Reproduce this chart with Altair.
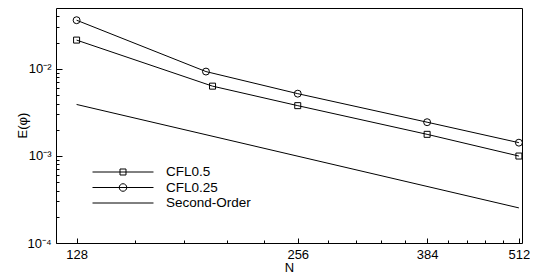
import math
import altair as alt
import pandas as pd

# ---- data ----
series_names = ["CFL0.5", "CFL0.25", "Second-Order"]

n_cfl05 = [128, 196, 256, 384, 512]
e_cfl05 = [0.0214, 0.00633, 0.00378, 0.00177, 0.000997]

n_cfl025 = [128, 192, 256, 384, 512]
e_cfl025 = [0.0362, 0.00931, 0.00519, 0.00244, 0.00142]

n_second = [128, 512]
e_second = [0.0039, 0.000253]

x_major = [128, 256, 384, 512]
x_minor = [153.6, 179.2, 204.8, 230.4, 281.6, 307.2, 332.8, 358.4,
           409.6, 435.2, 460.8, 486.4]
y_major = [1e-4, 1e-3, 1e-2]
y_major_labels = ["10⁻⁴", "10⁻³", "10⁻²"]
y_minor = [2e-4, 3e-4, 4e-4, 5e-4, 6e-4, 7e-4, 8e-4, 9e-4,
           2e-3, 3e-3, 4e-3, 5e-3, 6e-3, 7e-3, 8e-3, 9e-3,
           2e-2, 3e-2, 4e-2]

x_domain = [120, 517]
y_domain = [1e-4, 0.05]

# ---- tables ----
rows = []
for s, ns, es in [("CFL0.5", n_cfl05, e_cfl05),
                  ("CFL0.25", n_cfl025, e_cfl025),
                  ("Second-Order", n_second, e_second)]:
    for n, e in zip(ns, es):
        rows.append({"series": s, "N": n, "E": e})
df = pd.DataFrame(rows)
df_sq = df[df.series == "CFL0.5"]
df_ci = df[df.series == "CFL0.25"]

FONT = "Liberation Sans"
xscale = alt.Scale(type="log", domain=x_domain, nice=False)
yscale = alt.Scale(type="log", domain=y_domain, nice=False)

label_expr = " : ".join(
    [f"abs(log(datum.value)/log(10) - ({round(math.log10(v))})) < 0.01 ? '{l}'"
     for v, l in zip(y_major, y_major_labels)]) + " : ''"

major_x = alt.Axis(orient="bottom", values=x_major, format="d", offset=-5, tickSize=5,
                   tickColor="black", tickWidth=1, domain=False, grid=False,
                   labelFont=FONT, labelFontSize=13, labelColor="black",
                   labelPadding=5, labelFlush=False, labelOverlap=False,
                   title="N", titleFont=FONT, titleFontSize=13, titleFontWeight="normal",
                   titleColor="black", titlePadding=0)
major_y = alt.Axis(orient="left", values=y_major, labelExpr=label_expr, offset=-6, tickSize=6,
                   tickColor="black", tickWidth=1, domain=False, grid=False,
                   labelFont=FONT, labelFontSize=13, labelColor="black",
                   labelPadding=5, labelOverlap=False,
                   title="E(φ)", titleFont=FONT, titleFontSize=13, titleFontWeight="normal",
                   titleColor="black", titleX=-40, titleY=117, titleAngle=-90,
                   titleBaseline="middle", titleAlign="center")
minor_x = alt.Axis(orient="bottom", values=x_minor, offset=-3, tickSize=3,
                   tickColor="black", tickWidth=1, domain=False, grid=False,
                   labels=False, title=None)
minor_y = alt.Axis(orient="left", values=y_minor, offset=-3, tickSize=3,
                   tickColor="black", tickWidth=1, domain=False, grid=False,
                   labels=False, title=None)

lines = alt.Chart(df).mark_line(color="black", strokeWidth=1).encode(
    x=alt.X("N:Q", scale=xscale, axis=major_x),
    y=alt.Y("E:Q", scale=yscale, axis=major_y),
    detail="series:N",
)

squares = alt.Chart(df_sq).mark_point(shape="square", size=36, filled=False,
                                      color="black", strokeWidth=1, opacity=1).encode(
    x=alt.X("N:Q", scale=xscale, axis=minor_x),
    y=alt.Y("E:Q", scale=yscale, axis=minor_y),
)

circles = alt.Chart(df_ci).mark_point(shape="circle", size=48, filled=False,
                                      color="black", strokeWidth=1, opacity=1).encode(
    x=alt.X("N:Q", scale=xscale, axis=None),
    y=alt.Y("E:Q", scale=yscale, axis=None),
)

# legend symbols: unit = 6.5 px (symbolSize 169)
L = 4.69   # half line length 30.5 px
sq = 0.46  # half square 3 px
r = 0.58   # circle radius 3.75 px
legend_paths = [
    f"M-{L},0L{L},0M-{sq},-{sq}L{sq},-{sq}L{sq},{sq}L-{sq},{sq}Z",
    f"M-{L},0L{L},0M-{r},0A{r},{r} 0 1,0 {r},0A{r},{r} 0 1,0 -{r},0Z",
    f"M-{L},0L{L},0",
]

legend_layer = alt.Chart(df).mark_point(filled=False, color="black", strokeWidth=1,
                                        opacity=0).encode(
    x=alt.X("N:Q", scale=xscale, axis=None),
    y=alt.Y("E:Q", scale=yscale, axis=None),
    shape=alt.Shape("series:N",
                    scale=alt.Scale(domain=series_names, range=legend_paths),
                    legend=alt.Legend(orient="none", legendX=60, legendY=157, title=None,
                                      symbolSize=169, symbolStrokeWidth=1,
                                      symbolStrokeColor="black", symbolFillColor="transparent",
                                      symbolOpacity=1, labelFont=FONT, labelFontSize=13.5,
                                      labelColor="black", labelOffset=36, rowPadding=1.5,
                                      padding=0)),
)

chart = alt.layer(lines, squares, circles, legend_layer).resolve_axis(
    x="independent", y="independent"
).properties(
    width=466, height=235,
    autosize=alt.AutoSizeParams(type="none"),
    padding={"left": 48, "top": 0, "right": 8, "bottom": 33},
    background="white",
).configure_view(stroke="black", strokeWidth=1)

chart.save("out.html", embed_options={"renderer": "svg", "actions": False})
